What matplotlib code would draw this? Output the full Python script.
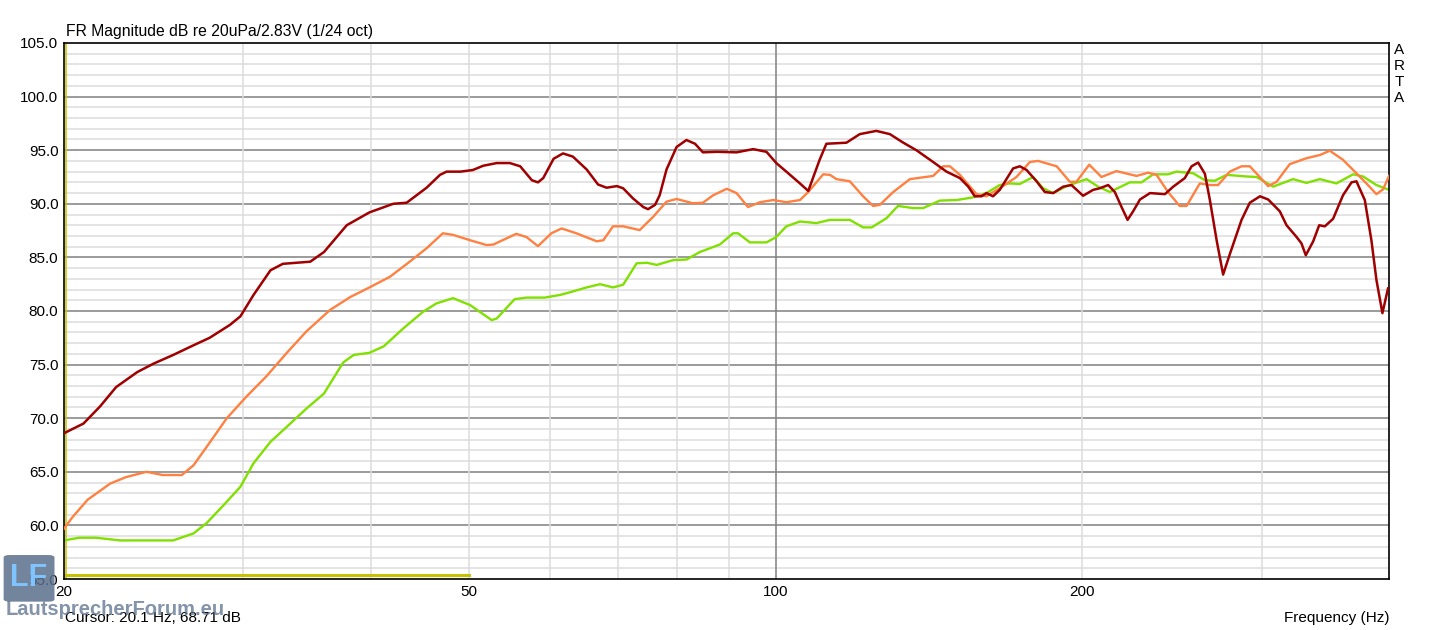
""" ARTA style frequency response, three measurements """
import matplotlib
matplotlib.use('Agg')
import matplotlib.pyplot as plt
from matplotlib.patches import FancyBboxPatch

plt.rcParams['font.family'] = ['Liberation Sans', 'DejaVu Sans']

# dark red curve
red_f = [20.0, 20.9, 21.7, 22.5, 23.6, 24.5, 25.6, 26.8, 27.8, 29.1, 29.8, 30.7, 31.9, 32.8,
         34.9, 36.0, 37.9, 39.9, 42.1, 43.4, 45.4, 46.8, 47.5, 49.0, 50.4, 51.6, 53.2, 54.8,
         56.1, 57.6, 58.4, 59.1, 60.5, 61.8, 63.2, 65.2, 66.9, 68.2, 69.8, 70.8, 72.4, 74.1,
         74.9, 76.1, 76.9, 78.1, 79.9, 81.7, 83.3, 84.8, 87.5, 91.5, 95.0, 97.9, 100.1, 102.4,
         105.6, 107.6, 110.4, 112.1, 117.3, 120.9, 125.5, 129.4, 133.4, 137.4, 142.7, 147.1,
         151.6, 154.5, 156.8, 159.2, 161.0, 163.4, 165.9, 171.0, 173.6, 176.3, 180.3, 183.7,
         187.2, 191.5, 195.1, 200.3, 204.9, 208.0, 212.0, 215.2, 218.5, 221.5, 224.3, 227.8,
         233.0, 241.0, 245.6, 252.1, 256.0, 259.8, 263.8, 266.8, 270.9, 274.9, 279.1, 286.6,
         292.0, 298.8, 304.4, 312.5, 317.3, 324.6, 328.2, 331.4, 337.0, 341.6, 346.0, 352.5,
         360.5, 367.5, 371.6, 378.7, 384.4, 388.8, 394.1, 399.1]
red_db = [68.6, 69.5, 71.1, 72.9, 74.3, 75.1, 75.9, 76.8, 77.5, 78.7, 79.5, 81.5, 83.8, 84.4,
          84.6, 85.5, 88.0, 89.2, 90.0, 90.1, 91.5, 92.7, 93.0, 93.0, 93.15, 93.55, 93.8, 93.8,
          93.5, 92.2, 92.0, 92.4, 94.2, 94.7, 94.4, 93.2, 91.8, 91.5, 91.65, 91.45, 90.5, 89.7,
          89.5, 89.9, 90.8, 93.2, 95.3, 95.95, 95.6, 94.8, 94.85, 94.8, 95.1, 94.85, 93.8, 93.0,
          91.9, 91.2, 94.1, 95.6, 95.7, 96.5, 96.8, 96.5, 95.7, 95.0, 93.9, 93.0,
          92.4, 91.6, 90.7, 90.7, 91.0, 90.7, 91.3, 93.3, 93.5, 93.15, 92.1, 91.1,
          91.0, 91.6, 91.75, 90.75, 91.3, 91.45, 91.75, 91.1, 89.7, 88.5, 89.3, 90.4,
          91.0, 90.9, 91.6, 92.4, 93.5, 93.85, 92.8, 90.35, 86.6, 83.4, 85.3, 88.5,
          90.1, 90.7, 90.4, 89.3, 88.0, 86.9, 86.3, 85.2, 86.5, 88.0, 87.9, 88.6,
          90.8, 92.0, 92.1, 90.35, 86.6, 82.9, 79.8, 82.1]

# orange curve
orange_f = [20.0, 20.4, 21.1, 22.2, 23.0, 24.1, 25.0, 26.1, 26.8, 27.6, 28.9, 30.2, 31.6, 33.1,
            34.6, 36.5, 38.2, 39.9, 41.8, 43.7, 45.4, 47.1, 48.2, 50.1, 52.0, 52.8, 55.6, 56.9,
            58.4, 60.2, 61.6, 63.7, 66.7, 67.7, 69.2, 70.8, 73.5, 75.8, 78.1, 79.9, 82.9, 84.8,
            86.8, 89.5, 91.5, 93.9, 96.5, 99.4, 102.4, 105.6, 107.6, 111.3, 113.0, 114.7, 118.2,
            121.8, 124.6, 126.5, 130.4, 135.4, 142.7, 146.0, 148.2, 151.6, 157.4, 161.0, 165.9,
            172.3, 177.6, 180.9, 188.7, 194.4, 197.3, 203.1, 208.8, 216.0, 226.0, 232.0, 236.5,
            242.7, 249.2, 253.1, 260.8, 266.8, 271.8, 279.1, 286.6, 292.0, 304.4, 310.2, 319.6,
            331.9, 342.1, 349.9, 360.5, 371.6, 380.1, 388.8, 394.7, 400.0]
orange_db = [59.7, 60.8, 62.4, 63.9, 64.5, 65.0, 64.7, 64.7, 65.6, 67.3, 70.0, 72.0, 73.9, 76.1,
             78.1, 80.1, 81.3, 82.2, 83.2, 84.6, 85.85, 87.25, 87.1, 86.6, 86.15, 86.2, 87.2, 86.9,
             86.05, 87.25, 87.7, 87.25, 86.5, 86.6, 87.9, 87.9, 87.55, 88.8, 90.2, 90.45, 90.05, 90.1,
             90.8, 91.4, 91.0, 89.7, 90.15, 90.35, 90.15, 90.35, 91.1, 92.75, 92.7, 92.3, 92.1,
             90.7, 89.8, 89.9, 91.1, 92.3, 92.6, 93.5, 93.5, 92.7, 90.9, 90.7, 91.45,
             92.5, 93.9, 94.0, 93.5, 92.05, 92.05, 93.65, 92.5, 93.05, 92.6, 92.9, 92.7,
             91.1, 89.8, 89.8, 91.9, 91.75, 91.75, 93.0, 93.5, 93.5, 91.65, 92.05, 93.7,
             94.25, 94.55, 94.95, 94.1, 92.85, 91.9, 90.9, 91.35, 92.6]

# green curve
green_f = [20.0, 20.7, 21.5, 22.7, 24.1, 25.6, 26.8, 27.6, 28.7, 29.8, 30.7, 31.9, 33.1, 34.6,
           36.0, 37.6, 38.5, 39.9, 41.2, 43.1, 45.0, 46.4, 48.2, 50.1, 52.6, 53.2, 55.4, 56.9,
           59.3, 61.4, 62.8, 65.2, 67.2, 69.2, 70.8, 73.0, 74.7, 76.4, 79.3, 81.7, 84.2, 88.1,
           90.8, 91.8, 94.3, 97.9, 100.1, 102.4, 105.6, 109.6, 113.0, 118.2, 121.8, 124.2, 128.4,
           131.8, 136.4, 139.5, 144.9, 150.5, 156.2, 161.0, 165.9, 169.7, 173.6, 178.9, 183.0,
           187.2, 193.0, 201.9, 207.2, 212.8, 222.6, 228.6, 234.7, 242.7, 247.4, 256.9, 263.8,
           269.8, 277.1, 289.8, 296.5, 307.8, 322.0, 331.9, 342.1, 355.2, 368.8, 377.2, 388.8, 400.0]
green_db = [58.6, 58.85, 58.85, 58.6, 58.6, 58.6, 59.25, 60.2, 61.9, 63.6, 65.8, 67.8, 69.2, 70.9,
            72.3, 75.2, 75.9, 76.1, 76.7, 78.4, 79.9, 80.7, 81.2, 80.55, 79.15, 79.3, 81.1, 81.25,
            81.25, 81.5, 81.75, 82.2, 82.5, 82.2, 82.45, 84.45, 84.5, 84.3, 84.75, 84.8, 85.5, 86.2,
            87.25, 87.25, 86.4, 86.4, 86.9, 87.9, 88.35, 88.2, 88.5, 88.5, 87.8, 87.8, 88.65,
            89.8, 89.6, 89.6, 90.3, 90.35, 90.6, 91.0, 91.75, 91.9, 91.85, 92.5, 91.45,
            91.0, 91.65, 92.3, 91.6, 91.1, 92.0, 92.0, 92.75, 92.75, 93.0, 92.85, 92.2,
            92.15, 92.7, 92.55, 92.5, 91.6, 92.3, 91.95, 92.3, 91.9, 92.75, 92.55, 91.75, 91.3]

# cursor / reference markers
cursor_f = 20.1
ref_f = [20.0, 50.0]
ref_db = [55.35, 55.35]

x_ticks = [20, 50, 100, 200]
x_minor = [30, 40, 50, 60, 70, 80, 90, 200, 300]
x_major = [100]

fig = plt.figure(figsize=(14.53, 6.3), dpi=100)
ax = fig.add_axes([0.04405, 0.08095, 0.9119, 0.8508])

# grid
for db in range(56, 105):
    ax.axhline(db, color='#808080' if db % 5 == 0 else '#dcdcdc', lw=1.1, zorder=0)
for f in x_minor:
    ax.axvline(f, color='#dcdcdc', lw=1.1, zorder=0)
for f in x_major:
    ax.axvline(f, color='#808080', lw=1.1, zorder=0)

ax.axvline(cursor_f, color='#c8c000', lw=1.1, zorder=1)
ax.plot(ref_f, ref_db, color='#c8c000', lw=2.2, zorder=1)

ax.plot(green_f, green_db, color='#80e000', lw=1.7, zorder=2)
ax.plot(orange_f, orange_db, color='#ff8040', lw=1.7, zorder=3)
ax.plot(red_f, red_db, color='#a00000', lw=1.8, zorder=4)

ax.set_xscale('log')
ax.set_xlim(20, 400)
ax.set_ylim(55, 105)
ax.set_xticks(x_ticks)
ax.set_xticklabels([str(t) for t in x_ticks])
ax.xaxis.set_minor_locator(matplotlib.ticker.NullLocator())
ax.set_yticks(range(55, 106, 5))
ax.set_yticklabels(['%.1f' % v for v in range(55, 106, 5)])
ax.tick_params(length=0, labelsize=11, pad=4, colors='#000000')
for s in ax.spines.values():
    s.set_color('black')
    s.set_linewidth(1.2)

ax.text(0.0015, 1.008, 'FR Magnitude dB re 20uPa/2.83V (1/24 oct)', transform=ax.transAxes,
        ha='left', va='bottom', fontsize=11.3)
for i, ch in enumerate('ARTA'):
    fig.text(0.9628, 0.921 - i * 0.0255, ch, ha='center', va='center', fontsize=11)
fig.text(0.956, 0.019, 'Frequency (Hz)', ha='right', va='center', fontsize=11)
fig.text(0.0445, 0.019, 'Cursor: 20.1 Hz, 68.71 dB', ha='left', va='center', fontsize=11)

# forum watermark (overlaps the corner labels, as in the original)
logo = FancyBboxPatch((0.0045, 0.047), 0.031, 0.07, boxstyle='round,pad=0.002,rounding_size=0.004',
                      transform=fig.transFigure, fc='#5a6f8c', ec='none', alpha=0.85, zorder=5)
fig.patches.append(logo)
fig.text(0.0195, 0.082, 'LF', ha='center', va='center', fontsize=22, fontweight='bold',
         color='#7fc4ff', zorder=6)
fig.text(0.004, 0.032, 'LautsprecherForum.eu', ha='left', va='center', fontsize=14.5,
         fontweight='bold', color='#5a6f8c', alpha=0.75, zorder=6)

fig.savefig('out.png', dpi=100)
